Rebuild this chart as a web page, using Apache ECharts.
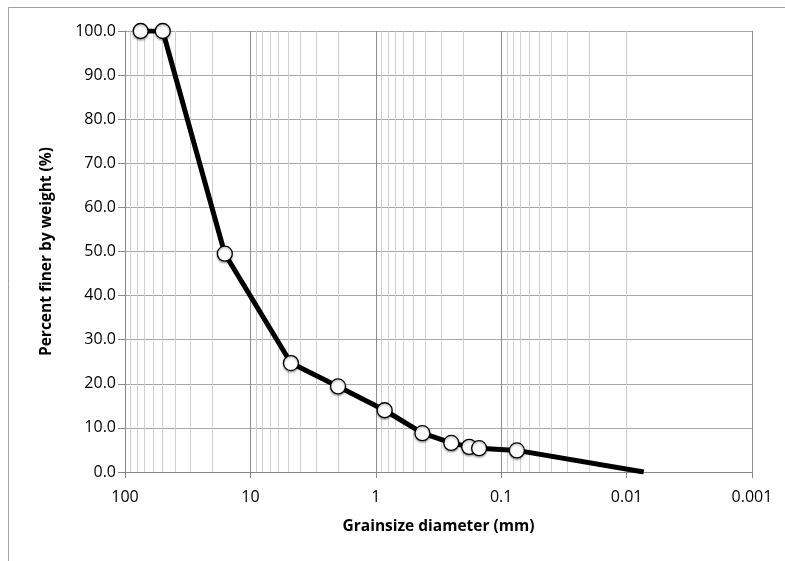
<!DOCTYPE html>
<html>
<head>
    <meta charset="utf-8">
    <title>Grain size distribution</title>
    <script src="https://cdn.jsdelivr.net/npm/echarts@6/dist/echarts.min.js"></script>
</head>
<body style="margin:0;background:#fff;">
    <div id="main" style="width:785px;height:561px;"></div>
    <script type="text/javascript">
        // grain sizes (mm) and percent passing
        var grainSize = [75, 50, 16, 4.75, 2.0, 0.85, 0.425, 0.25, 0.18, 0.15, 0.075, 0.0073];
        var percentFiner = [100, 100, 49.5, 24.7, 19.4, 14.0, 8.8, 6.6, 5.7, 5.4, 4.9, 0];
        var xTickLabels = ['100', '10', '1', '0.1', '0.01', '0.001'];

        var myChart = echarts.init(document.getElementById('main'));

        var pts = [];
        for (var i = 0; i < grainSize.length; i++) {
            var p = [grainSize[i], percentFiner[i]];
            // last point is where the curve meets zero, drawn without a marker
            if (i === grainSize.length - 1) {
                pts.push({ value: p, symbol: 'none' });
            } else {
                pts.push(p);
            }
        }

        // minor log grid lines at 2..9 of each decade
        var minorLines = [];
        for (var d = 0.001; d < 100; d *= 10) {
            for (var m = 2; m <= 9; m++) {
                minorLines.push({ xAxis: +(m * d).toPrecision(3) });
            }
        }

        var font = '"Open Sans", "Liberation Sans", sans-serif';

        var option = {
            backgroundColor: '#fff',
            animation: false,
            textStyle: { fontFamily: font },
            graphic: [{
                type: 'rect',
                shape: { x: 8.5, y: 7.5, width: 820, height: 600 },
                style: { fill: 'none', stroke: '#a0a0a0', lineWidth: 1 },
                silent: true
            }],
            grid: { left: 125, right: 33, top: 31, bottom: 89 },
            xAxis: {
                type: 'log',
                logBase: 10,
                inverse: true,
                min: 0.001,
                max: 100,
                name: 'Grainsize diameter (mm)',
                nameLocation: 'middle',
                nameGap: 47,
                nameTextStyle: { fontSize: 15.5, fontWeight: 'bold', color: '#000', fontFamily: font },
                axisLine: { lineStyle: { color: '#888', width: 1 } },
                axisTick: { show: true, length: 6, lineStyle: { color: '#888' } },
                axisLabel: {
                    fontSize: 16, color: '#000', margin: 17, fontFamily: font,
                    formatter: function (v) {
                        var k = Math.round(Math.log10(v));
                        return xTickLabels[2 - k] || String(v);
                    }
                },
                splitLine: { show: true, lineStyle: { color: '#8c8c8c', width: 1 } }
            },
            yAxis: {
                type: 'value',
                min: 0,
                max: 100,
                interval: 10,
                name: 'Percent finer by weight (%)',
                nameLocation: 'middle',
                nameGap: 70,
                nameTextStyle: { fontSize: 15.5, fontWeight: 'bold', color: '#000', fontFamily: font },
                axisLine: { show: true, lineStyle: { color: '#888', width: 1 } },
                axisTick: { show: true, length: 7, lineStyle: { color: '#888' } },
                axisLabel: {
                    fontSize: 16, color: '#000', margin: 9, fontFamily: font,
                    formatter: function (v) { return v.toFixed(1); }
                },
                splitLine: { show: true, lineStyle: { color: '#a6a6a6', width: 1 } }
            },
            series: [
                {
                    type: 'line',
                    data: [],
                    z: 1,
                    silent: true,
                    markLine: {
                        z: 1,
                        silent: true,
                        symbol: ['none', 'none'],
                        label: { show: false },
                        emphasis: { disabled: true },
                        lineStyle: { type: 'solid', color: '#cfcfcf', width: 1 },
                        data: minorLines
                    }
                },
                {
                    type: 'line',
                    data: pts,
                    z: 3,
                    symbol: 'circle',
                    symbolSize: 15,
                    showAllSymbol: true,
                    lineStyle: { color: '#000', width: 5 },
                    itemStyle: {
                        color: '#fff', borderColor: '#000', borderWidth: 1.3,
                        shadowColor: 'rgba(0,0,0,0.3)', shadowBlur: 2, shadowOffsetY: 1.5
                    },
                    emphasis: { disabled: true }
                }
            ]
        };

        myChart.setOption(option);
    </script>
</body>
</html>
